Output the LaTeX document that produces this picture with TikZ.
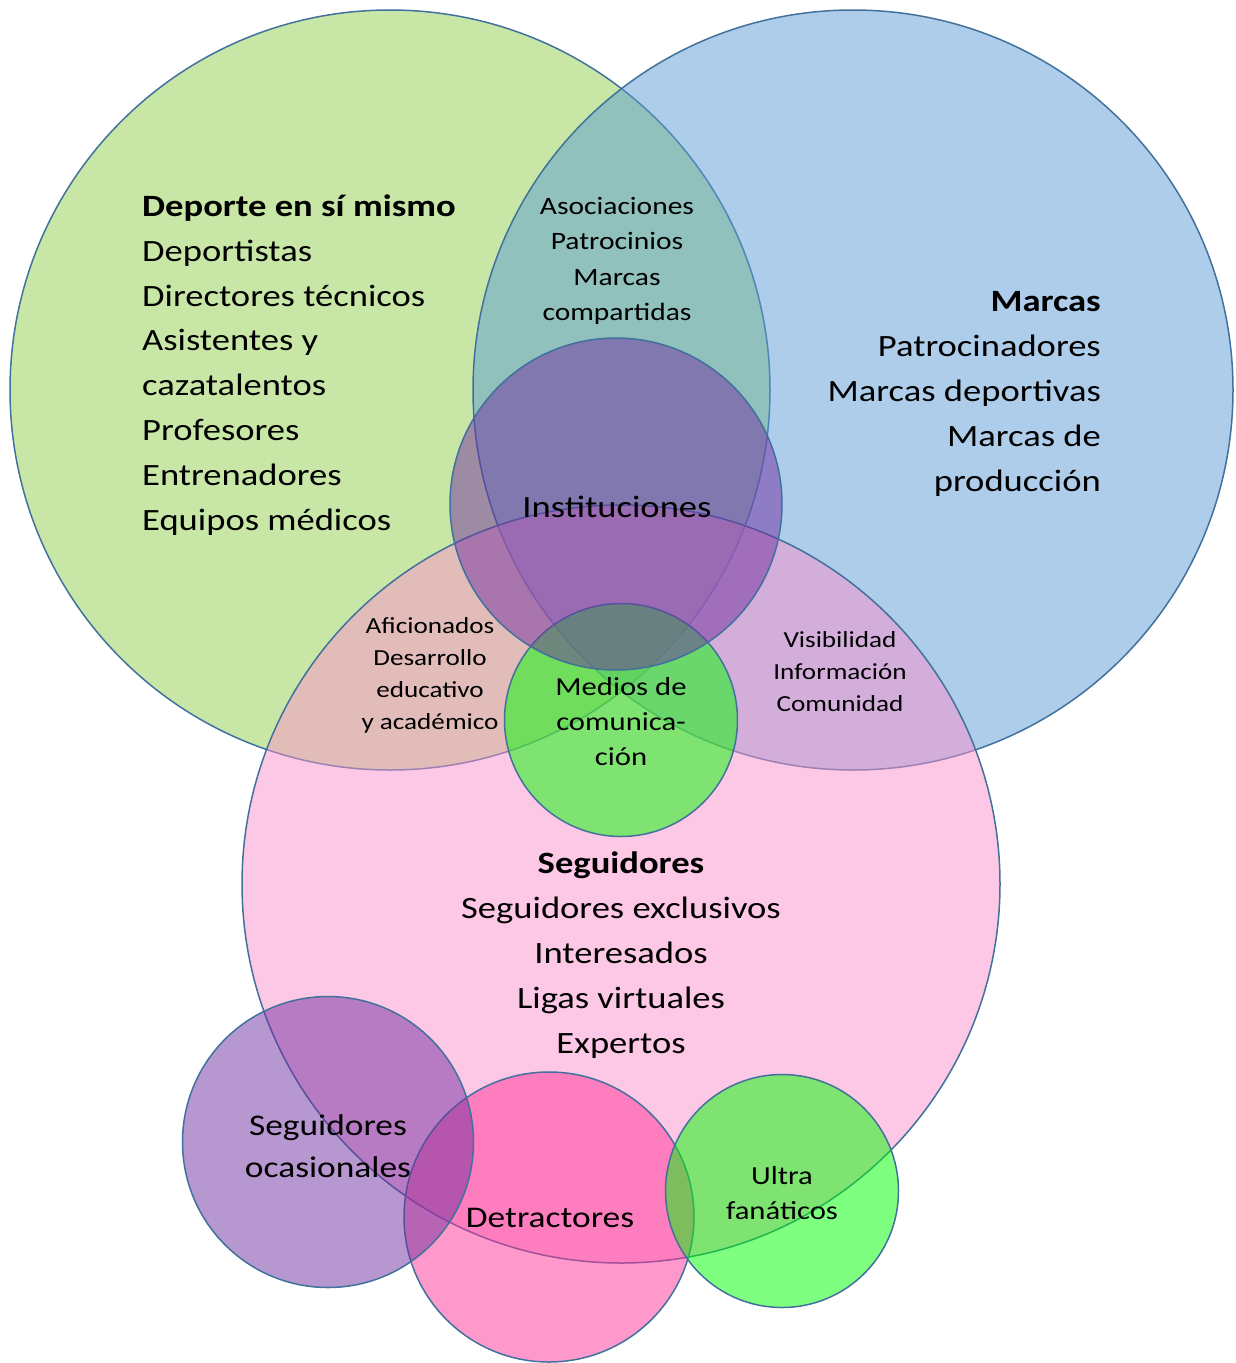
\documentclass[tikz,border=0pt]{standalone}
\usepackage{fontspec}
\setmainfont{Carlito}[FakeStretch=1.18]

\definecolor{vennline}{HTML}{41719C}
\definecolor{cgreen}{HTML}{92D050}
\definecolor{cblue}{HTML}{5B9BD5}
\definecolor{cpink}{RGB}{252,145,203}
\definecolor{cpurple}{HTML}{7030A0}
\definecolor{clime}{HTML}{00FF00}
\definecolor{cmagenta}{HTML}{FF3399}

\tikzset{venn/.style = {circle, draw=vennline, line width=1.5pt, fill opacity=0.5, inner sep=0pt}}
\tikzset{lbl/.style = {inner sep=0pt, text=black}}
\newcommand{\fs}[2]{\fontsize{#1}{#2}\selectfont}

\begin{document}
\begin{tikzpicture}[x=1pt, y=-1pt]
		\useasboundingbox (0,0) rectangle (1235,1363);
		% Circles
		\node[venn, fill=cgreen,   minimum size=760pt] (deporte) at (390, 390) {};
		\node[venn, fill=cblue,    minimum size=760pt] (marcas)  at (853, 390) {};
		\node[venn, fill=cpink,    minimum size=758pt] (segui)   at (621, 884) {};
		\node[venn, fill=clime,    minimum size=233pt] (medios)  at (621, 720) {};
		\node[venn, fill=cpurple,  minimum size=332pt] (inst)    at (616, 504) {};
		\node[venn, fill=cmagenta, minimum size=290pt] (detr)    at (549,1217) {};
		\node[venn, fill=cpurple,  minimum size=291pt] (ocas)    at (328,1142) {};
		\node[venn, fill=clime,    minimum size=233pt] (ultra)   at (782,1191) {};
		% Texts
		\node[lbl, anchor=west, align=left, font=\fs{31}{44.9}] (tdeporte) at (142, 365)
			{\textbf{Deporte en sí mismo}\\Deportistas\\Directores técnicos\\Asistentes y\\cazatalentos\\Profesores\\Entrenadores\\Equipos médicos};
		\node[lbl, anchor=east, align=right, font=\fs{31}{44.9}] (tmarcas) at (1101, 394)
			{\textbf{Marcas}\\Patrocinadores\\Marcas deportivas\\Marcas de\\producción};
		\node[lbl, align=center, font=\fs{25}{35.3}] (tasoc) at (617, 261)
			{Asociaciones\\Patrocinios\\Marcas\\compartidas};
		\node[lbl, font=\fs{31}{37}] (tinst) at (617, 507) {Instituciones};
		\node[lbl, align=center, font=\fs{23}{32}] (tafic) at (430, 675)
			{Aficionados\\Desarrollo\\educativo\\y académico};
		\node[lbl, align=center, font=\fs{23}{32}] (tvisi) at (840, 672)
			{Visibilidad\\Información\\Comunidad};
		\node[lbl, align=center, font=\fs{26}{35}] (tmedios) at (621, 722)
			{Medios de\\comunica-\\ción};
		\node[lbl, align=center, font=\fs{31}{44.9}] (tsegui) at (621, 955)
			{\textbf{Seguidores}\\Seguidores exclusivos\\Interesados\\Ligas virtuales\\Expertos};
		\node[lbl, align=center, font=\fs{30}{42}] (tocas) at (328, 1146)
			{Seguidores\\ocasionales};
		\node[lbl, font=\fs{30}{36}] (tdetr) at (550, 1218) {Detractores};
		\node[lbl, align=center, font=\fs{26}{35}] (tultra) at (782, 1193)
			{Ultra\\fanáticos};
\end{tikzpicture}
\end{document}
